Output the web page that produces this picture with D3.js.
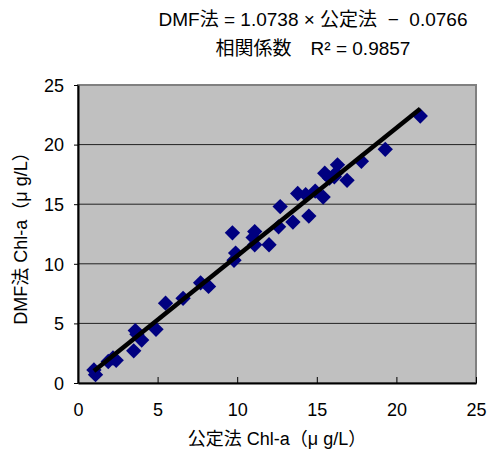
<!DOCTYPE html>
<html>
<head>
<meta charset="utf-8"/>
<script src="https://cdn.jsdelivr.net/npm/d3@7"></script>
<style>
  body { margin: 0; background: #fff; }
  text { font-family: "Liberation Sans", "Noto Sans CJK JP", sans-serif; fill: #000; }
</style>
</head>
<body>
<svg id="chart"></svg>
<script>
// measured values (公定法, DMF法)
const kouteiValues = [1.0, 1.1, 1.9, 2.2, 2.4, 3.5, 3.6, 3.7, 4.0, 4.9, 5.5, 6.6, 7.7, 8.2,
  9.7, 9.9, 9.8, 11.1, 11.0, 11.1, 12.0, 12.7, 12.6, 13.5, 13.8, 14.3, 14.5, 14.9, 15.4,
  15.5, 15.8, 16.1, 16.3, 16.2, 16.9, 17.8, 19.3, 21.5];
const dmfValues = [1.1, 0.7, 1.8, 2.1, 1.9, 2.7, 4.4, 4.1, 3.6, 4.5, 6.7, 7.1, 8.4, 8.1,
  12.6, 10.9, 10.3, 12.7, 12.2, 11.6, 11.6, 14.8, 13.1, 13.5, 15.9, 15.8, 14.0, 16.1, 15.6,
  17.6, 17.2, 17.3, 18.3, 17.6, 17.0, 18.6, 19.6, 22.4];
const slope = 1.0738;
const intercept = -0.0766;
const ticks = [0, 5, 10, 15, 20, 25];
const titleLines = ["DMF法 = 1.0738 × 公定法  −  0.0766", "相関係数\u3000R² = 0.9857"];
const xTitle = "公定法 Chl-a（μ g/L）";
const yTitle = "DMF法 Chl-a（μ g/L）";

const W = 487, H = 452;
const m = { left: 78, right: 11, top: 85, bottom: 69 };
const svg = d3.select("#chart").attr("width", W).attr("height", H);

const x = d3.scaleLinear().domain([0, 25]).range([m.left, W - m.right]);
const y = d3.scaleLinear().domain([0, 25]).range([H - m.bottom, m.top]);

// plot area
svg.append("rect")
    .attr("x", x(0)).attr("y", y(25))
    .attr("width", x(25) - x(0)).attr("height", y(0) - y(25))
    .style("fill", "#c0c0c0")
    .style("stroke", "#808080")
    .style("stroke-width", 2);

// gridlines
svg.selectAll(".grid")
    .data(ticks.filter(t => t > 0 && t < 25))
    .join("line")
      .attr("class", "grid")
      .attr("x1", x(0)).attr("x2", x(25))
      .attr("y1", d => y(d)).attr("y2", d => y(d))
      .style("stroke", "#222")
      .style("stroke-width", 1);

// axes
const xAxis = svg.append("g")
    .attr("transform", `translate(0,${y(0)})`)
    .call(d3.axisBottom(x).tickValues(ticks).tickSizeInner(-6).tickSizeOuter(0).tickPadding(20));
const yAxis = svg.append("g")
    .attr("transform", `translate(${x(0)},0)`)
    .call(d3.axisLeft(y).tickValues(ticks).tickSizeInner(4).tickSizeOuter(0).tickPadding(10));
[xAxis, yAxis].forEach(g => {
  g.select(".domain").style("stroke", "#000").style("stroke-width", 2);
  g.selectAll(".tick line").style("stroke", "#000").style("stroke-width", 1);
  g.selectAll(".tick text").style("font-size", "18px")
      .style("font-family", "'Liberation Sans', 'Noto Sans CJK JP', sans-serif");
});
yAxis.selectAll(".tick text").attr("dy", "0.35em");

// points
const points = kouteiValues.map((v, i) => ({ x: v, y: dmfValues[i] }));
svg.selectAll(".pt")
    .data(points)
    .join("path")
      .attr("class", "pt")
      .attr("d", d3.symbol(d3.symbolDiamond2, 150))
      .attr("transform", d => `translate(${x(d.x)},${y(d.y)})`)
      .style("fill", "#000080");

// trendline
const xExt = d3.extent(kouteiValues);
svg.append("line")
    .attr("x1", x(xExt[0])).attr("y1", y(slope * xExt[0] + intercept))
    .attr("x2", x(xExt[1])).attr("y2", y(slope * xExt[1] + intercept))
    .style("stroke", "#000")
    .style("stroke-width", 4.5);

// title
svg.selectAll(".title")
    .data(titleLines)
    .join("text")
      .attr("class", "title")
      .attr("x", 313)
      .attr("y", (d, i) => 26 + i * 29)
      .attr("text-anchor", "middle")
      .style("font-size", "19px")
      .style("white-space", "pre")
      .text(d => d);

// axis titles
svg.append("text")
    .attr("x", (x(0) + x(25)) / 2)
    .attr("y", 445)
    .attr("text-anchor", "middle")
    .style("font-size", "18px")
    .text(xTitle);
svg.append("text")
    .attr("transform", `translate(27,${(y(0) + y(25)) / 2}) rotate(-90)`)
    .attr("text-anchor", "middle")
    .style("font-size", "18px")
    .text(yTitle);
</script>
</body>
</html>
